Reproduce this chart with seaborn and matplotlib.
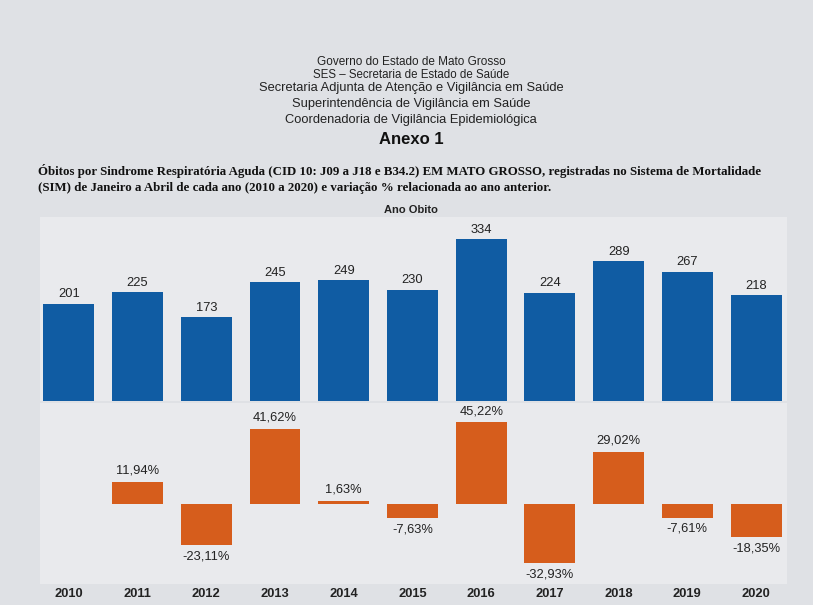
import numpy as np
import pandas as pd
import matplotlib
matplotlib.use("Agg")
import matplotlib.pyplot as plt
import seaborn as sns

# dados
anos = ["2010", "2011", "2012", "2013", "2014", "2015", "2016", "2017", "2018", "2019", "2020"]
obitos = [201, 225, 173, 245, 249, 230, 334, 224, 289, 267, 218]
variacao = [np.nan, 11.94, -23.11, 41.62, 1.63, -7.63, 45.22, -32.93, 29.02, -7.61, -18.35]

cabecalho = [
    "Governo do Estado de Mato Grosso",
    "SES \u2013 Secretaria de Estado de Saúde",
    "Secretaria Adjunta de Atenção e Vigilância em Saúde",
    "Superintendência de Vigilância em Saúde",
    "Coordenadoria de Vigilância Epidemiológica",
]
titulo = ("Óbitos por Sindrome Respiratória Aguda (CID 10: J09 a J18 e B34.2) EM MATO GROSSO, "
          "registradas no Sistema de Mortalidade\n(SIM) de Janeiro a Abril de cada ano (2010 a 2020) "
          "e variação % relacionada ao ano anterior.")

df = pd.DataFrame({"ano": anos, "obitos": obitos, "variacao": variacao})

sns.set_theme(style="white")
plt.rcParams["font.family"] = ["Liberation Sans", "DejaVu Sans"]

azul = "#105ca3"
laranja = "#d65d1c"
fundo = "#dfe1e5"
painel = "#e9eaed"

W, H = 813, 605
fig = plt.figure(figsize=(W / 100, H / 100), dpi=100, facecolor=fundo)

# cabecalho
ys = [62, 75, 88, 104, 120]
tams = [8.5, 8.3, 9.3, 9.3, 9.3]
for txt, y, s in zip(cabecalho, ys, tams):
    fig.text(411 / W, 1 - y / H, txt, ha="center", va="center", fontsize=s, color="#222222")
fig.text(411 / W, 1 - 140 / H, "Anexo 1", ha="center", va="center", fontsize=12,
         fontweight="bold", color="#111111")
fig.text(38 / W, 1 - 179 / H, titulo, ha="left", va="center", fontsize=9.3,
         fontweight="bold", family=["Liberation Serif", "DejaVu Serif"], color="#111111",
         linespacing=1.55)
fig.text(411 / W, 1 - 210 / H, "Ano Obito", ha="center", va="center", fontsize=8,
         fontweight="bold", color="#222222")

# painel superior
ax1 = fig.add_axes([40 / W, 1 - 401 / H, 747 / W, 184 / H], facecolor=painel)
sns.barplot(data=df, x="ano", y="obitos", color=azul, width=0.74, saturation=1,
            edgecolor="none", ax=ax1)
ax1.set_ylim(0, 380)
for i, v in enumerate(obitos):
    ax1.text(i, v + 7, str(v), ha="center", va="bottom", fontsize=9.3, color="#222222")

# painel inferior
ax2 = fig.add_axes([40 / W, 1 - 584 / H, 747 / W, 181 / H], facecolor=painel)
sns.barplot(data=df, x="ano", y="variacao", color=laranja, width=0.74, saturation=1,
            edgecolor="none", ax=ax2)
ax2.set_ylim(-44.5, 56)
for i, v in enumerate(variacao):
    if np.isnan(v):
        continue
    lbl = f"{v:.2f}%".replace(".", ",")
    if v >= 0:
        ax2.text(i, v + 3, lbl, ha="center", va="bottom", fontsize=9.3, color="#222222")
    else:
        ax2.text(i, v - 3, lbl, ha="center", va="top", fontsize=9.3, color="#222222")

for ax in (ax1, ax2):
    ax.set_xlim(-0.42, 10.45)
    ax.set_xlabel("")
    ax.set_ylabel("")
    ax.set_yticks([])
    for sp in ax.spines.values():
        sp.set_visible(False)

ax1.set_xticks([])
ax2.set_xticks(range(len(anos)))
ax2.set_xticklabels(anos, fontsize=9.3, fontweight="bold", color="#222222")
ax2.tick_params(axis="x", length=0, pad=3)

fig.savefig("out.png", dpi=100, facecolor=fundo)
